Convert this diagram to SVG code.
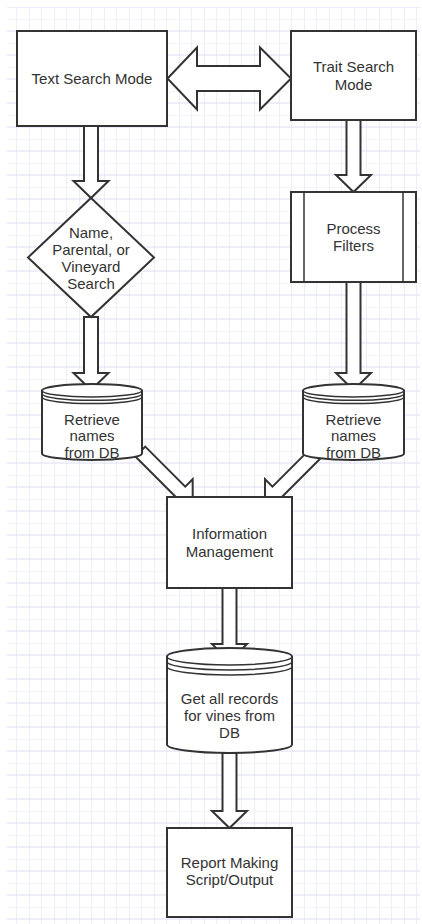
<svg xmlns="http://www.w3.org/2000/svg" width="422" height="924" viewBox="0 0 422 924">
  <style>
    .shape { fill: #ffffff; stroke: #333333; stroke-width: 2; stroke-linejoin: miter; }
    .line { fill: none; stroke: #333333; stroke-width: 1.5; }
    .arrow { fill: #ffffff; stroke: #333333; stroke-width: 2; stroke-linejoin: miter; }
    .label { font-family: "Liberation Sans", Arial, sans-serif; font-size: 15px; fill: #333333; text-anchor: middle; }
  </style>
  <defs>
    <!-- background grid: 12.5 x 12 cells, every second line a little stronger -->
    <pattern id="grid" patternUnits="userSpaceOnUse" x="-8" y="-5" width="25" height="24">
      <path d="M12.5 0 V24 M0 0 H25" fill="none" stroke="#ececfb" stroke-width="1"/>
      <path d="M25 0 V24 M0 12 H25" fill="none" stroke="#dedef7" stroke-width="1"/>
    </pattern>
  </defs>

  <rect x="0" y="0" width="422" height="924" fill="#ffffff"/>
  <rect x="7" y="7" width="413" height="917" fill="url(#grid)"/>

  <!-- connectors (block arrows) -->
  <g id="connectors">
    <!-- Text Search Mode <-> Trait Search Mode -->
    <polygon class="arrow" points="167.5,78.5 197,47.5 197,66 260,66 260,47.5 291,78.5 260,109.5 260,91 197,91 197,109.5"/>
    <!-- Text Search Mode -> decision -->
    <polygon class="arrow" points="84,126 98,126 98,181 108.5,181 91,198 73.5,181 84,181"/>
    <!-- decision -> left DB -->
    <polygon class="arrow" points="84,317 98,317 98,373 108.5,373 91,390 73.5,373 84,373"/>
    <!-- Trait Search Mode -> Process Filters -->
    <polygon class="arrow" points="346.5,120 360.5,120 360.5,175 371,175 353.5,192 336,175 346.5,175"/>
    <!-- Process Filters -> right DB -->
    <polygon class="arrow" points="346.5,282 360.5,282 360.5,373 371,373 353.5,390 336,373 346.5,373"/>
    <!-- left DB -> Information Management -->
    <polygon class="arrow" points="145.25,446.65 185.25,486.65 192.67,479.23 192.7,504 167.93,503.97 175.35,496.55 135.35,456.55"/>
    <!-- right DB -> Information Management -->
    <polygon class="arrow" points="322.35,456.55 282.35,496.55 289.77,503.97 265,504 265.03,479.23 272.45,486.65 312.45,446.65"/>
    <!-- Information Management -> records DB -->
    <polygon class="arrow" points="222.5,588 236.5,588 236.5,644 247,644 229.5,661 212,644 222.5,644"/>
    <!-- records DB -> Report Making -->
    <polygon class="arrow" points="222.5,753 236.5,753 236.5,811 247,811 229.5,828 212,811 222.5,811"/>
  </g>

  <g id="text-search-mode">
    <rect class="shape" x="17" y="31" width="150" height="95"/>
    <text class="label" x="92" y="84">Text Search Mode</text>
  </g>

  <g id="trait-search-mode">
    <rect class="shape" x="291" y="31" width="125" height="89"/>
    <text class="label" x="353.5" y="72">Trait Search</text>
    <text class="label" x="353.5" y="90">Mode</text>
  </g>

  <g id="search-type">
    <polygon class="shape" points="91,198 154,257.5 91,317 28,257.5"/>
    <text class="label" x="91" y="238">Name,</text>
    <text class="label" x="91" y="255">Parental, or</text>
    <text class="label" x="91" y="272">Vineyard</text>
    <text class="label" x="91" y="289">Search</text>
  </g>

  <g id="process-filters">
    <rect class="shape" x="291" y="192" width="125" height="90"/>
    <path class="line" d="M304 192 V282 M403 192 V282" stroke-width="2"/>
    <text class="label" x="353.5" y="233.5">Process</text>
    <text class="label" x="353.5" y="251">Filters</text>
  </g>

  <g id="retrieve-names-left">
    <path class="shape" d="M42 390.5 A50 6.5 0 0 1 142 390.5 V453.5 A50 6.5 0 0 1 42 453.5 Z"/>
    <path class="line" d="M42 390.5 A50 6.5 0 0 0 142 390.5 M42 393.8 A50 6.5 0 0 0 142 393.8 M42 397.1 A50 6.5 0 0 0 142 397.1"/>
    <text class="label" x="92" y="424.5">Retrieve</text>
    <text class="label" x="92" y="441">names</text>
    <text class="label" x="92" y="457.5">from DB</text>
  </g>

  <g id="retrieve-names-right">
    <path class="shape" d="M303 390.5 A50.5 6.5 0 0 1 404 390.5 V453.5 A50.5 6.5 0 0 1 303 453.5 Z"/>
    <path class="line" d="M303 390.5 A50.5 6.5 0 0 0 404 390.5 M303 393.8 A50.5 6.5 0 0 0 404 393.8 M303 397.1 A50.5 6.5 0 0 0 404 397.1"/>
    <text class="label" x="353.5" y="424.5">Retrieve</text>
    <text class="label" x="353.5" y="441">names</text>
    <text class="label" x="353.5" y="457.5">from DB</text>
  </g>

  <g id="information-management">
    <rect class="shape" x="167" y="497" width="125" height="91"/>
    <text class="label" x="229.5" y="539">Information</text>
    <text class="label" x="229.5" y="557">Management</text>
  </g>

  <g id="get-all-records">
    <path class="shape" d="M167 656.5 A62.5 8.5 0 0 1 292 656.5 V744.5 A62.5 8.5 0 0 1 167 744.5 Z"/>
    <path class="line" d="M167 656.5 A62.5 8.5 0 0 0 292 656.5 M167 661.5 A62.5 8.5 0 0 0 292 661.5 M167 666.5 A62.5 8.5 0 0 0 292 666.5"/>
    <text class="label" x="229.5" y="704">Get all records</text>
    <text class="label" x="229.5" y="721">for vines from</text>
    <text class="label" x="229.5" y="738">DB</text>
  </g>

  <g id="report-making">
    <rect class="shape" x="167" y="828" width="125" height="89"/>
    <text class="label" x="229.5" y="868">Report Making</text>
    <text class="label" x="229.5" y="885">Script/Output</text>
  </g>
</svg>
